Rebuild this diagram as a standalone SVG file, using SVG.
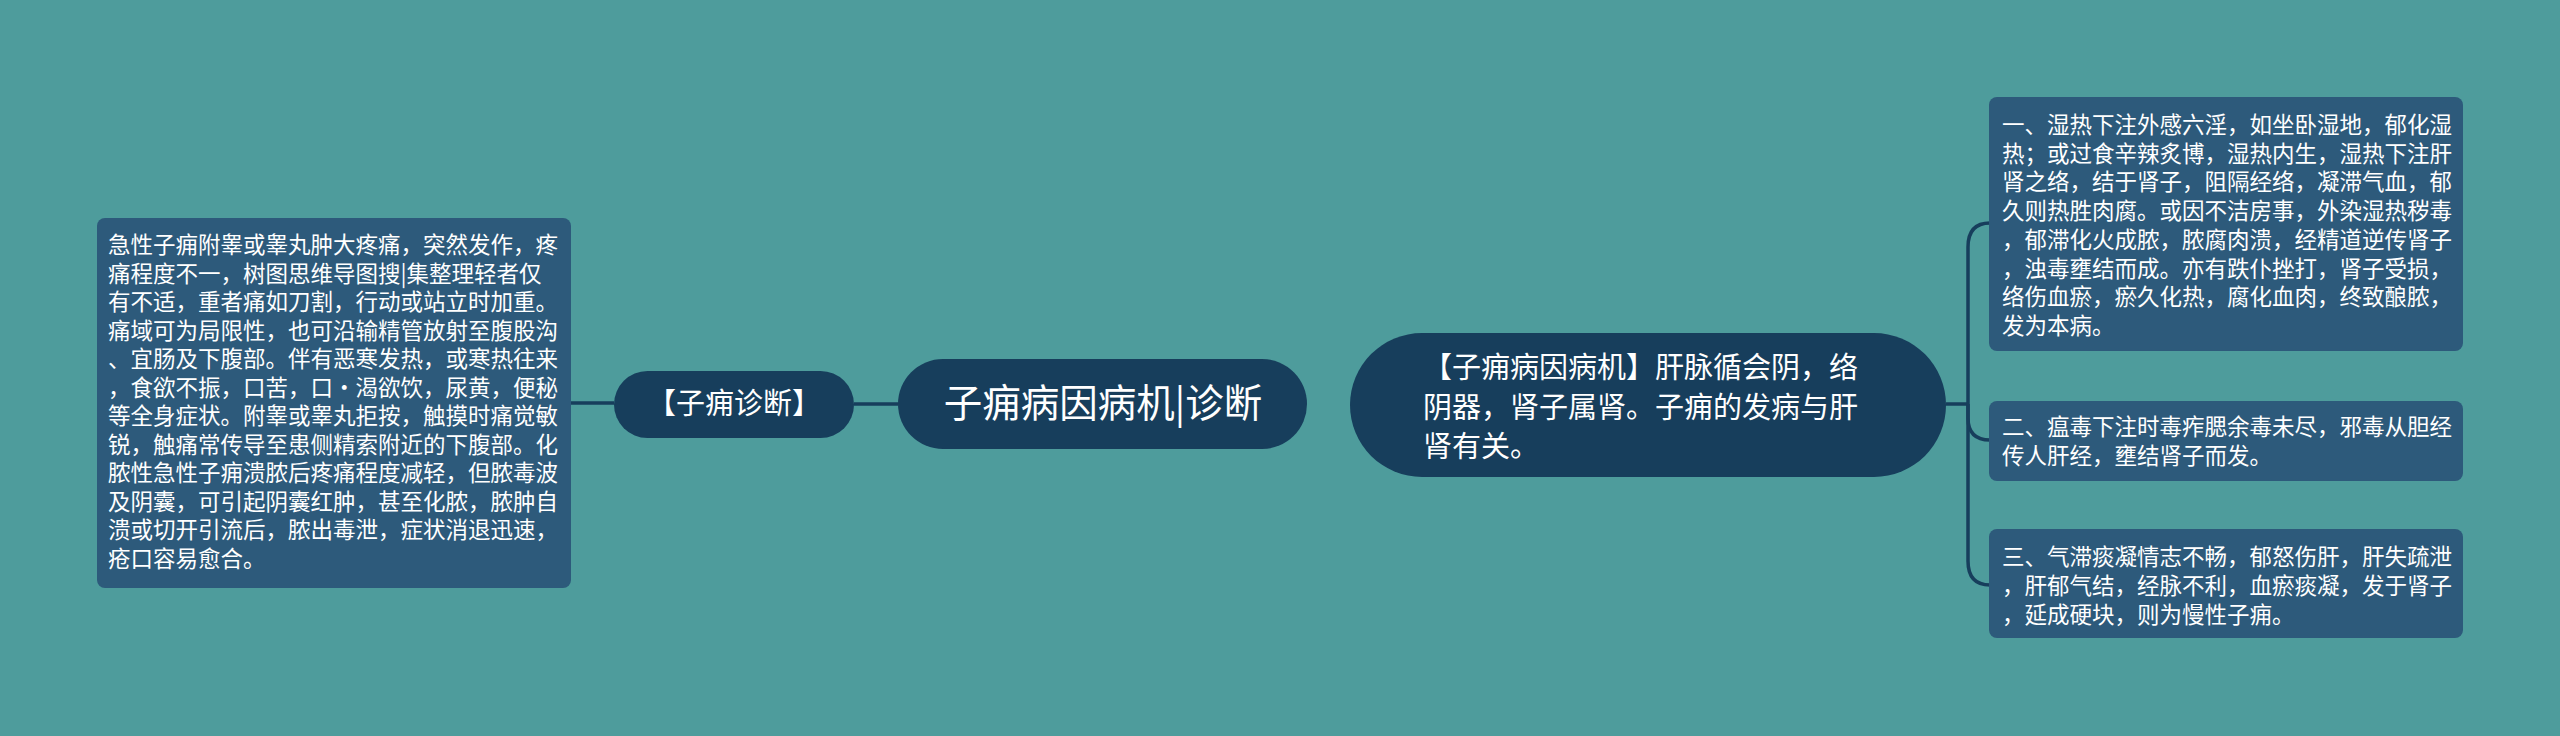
<svg xmlns="http://www.w3.org/2000/svg" width="2560" height="736" viewBox="0 0 2560 736">
<style>
.t{font-family:"Noto Sans CJK SC","Noto Sans",sans-serif;fill:#ffffff}
.leaf{fill:#2d5a7b}
.node{fill:#173e5c}
.s{font-size:22.5px}
.c{fill:none;stroke:#173e5c;stroke-width:3.5}
</style>
<rect width="2560" height="736" fill="#4e9c9c"/>
<g id="connectors">
<path class="c" d="M571 403 H614"/>
<path class="c" d="M854 404 H898"/>
<path class="c" d="M1946 404 H1968"/>
<path class="c" d="M1968 404 V247 Q1968 223 1990 223"/>
<path class="c" d="M1968 404 V418 Q1968 440 1990 440"/>
<path class="c" d="M1968 404 V561 Q1968 585 1990 585"/>
</g>
<g id="node-left-detail">
<rect class="leaf" x="97" y="218" width="474" height="370" rx="8"/>
<text class="t s" x="108" y="253">急性子痈附睾或睾丸肿大疼痛，突然发作，疼</text>
<text class="t s" x="108" y="281.5">痛程度不一，树图思维导图搜|集整理轻者仅</text>
<text class="t s" x="108" y="310">有不适，重者痛如刀割，行动或站立时加重。</text>
<text class="t s" x="108" y="338.5">痛域可为局限性，也可沿输精管放射至腹股沟</text>
<text class="t s" x="108" y="367">、宜肠及下腹部。伴有恶寒发热，或寒热往来</text>
<text class="t s" x="108" y="395.5">，食欲不振，口苦，口·渴欲饮，尿黄，便秘</text>
<text class="t s" x="108" y="424">等全身症状。附睾或睾丸拒按，触摸时痛觉敏</text>
<text class="t s" x="108" y="452.5">锐，触痛常传导至患侧精索附近的下腹部。化</text>
<text class="t s" x="108" y="481">脓性急性子痈溃脓后疼痛程度减轻，但脓毒波</text>
<text class="t s" x="108" y="509.5">及阴囊，可引起阴囊红肿，甚至化脓，脓肿自</text>
<text class="t s" x="108" y="538">溃或切开引流后，脓出毒泄，症状消退迅速，</text>
<text class="t s" x="108" y="566.5">疮口容易愈合。</text>
</g>
<g id="node-diagnosis">
<rect class="node" x="614" y="371" width="240" height="67" rx="33.5"/>
<text class="t" x="734" y="414" font-size="29" text-anchor="middle">【子痈诊断】</text>
</g>
<g id="node-root">
<rect class="node" x="898" y="359" width="409" height="90" rx="45"/>
<text class="t" x="1103" y="417" font-size="38.5" text-anchor="middle">子痈病因病机|诊断</text>
</g>
<g id="node-cause">
<rect class="node" x="1350" y="333" width="596" height="144" rx="72"/>
<text class="t" x="1423" y="378" font-size="29">【子痈病因病机】肝脉循会阴，络</text>
<text class="t" x="1423" y="418" font-size="29">阴器，肾子属肾。子痈的发病与肝</text>
<text class="t" x="1423" y="457" font-size="29">肾有关。</text>
</g>
<g id="node-cause-1">
<rect class="leaf" x="1989" y="97" width="474" height="254" rx="8"/>
<text class="t s" x="2002" y="133">一、湿热下注外感六淫，如坐卧湿地，郁化湿</text>
<text class="t s" x="2002" y="161.7">热；或过食辛辣炙博，湿热内生，湿热下注肝</text>
<text class="t s" x="2002" y="190.4">肾之络，结于肾子，阻隔经络，凝滞气血，郁</text>
<text class="t s" x="2002" y="219.1">久则热胜肉腐。或因不洁房事，外染湿热秽毒</text>
<text class="t s" x="2002" y="247.8">，郁滞化火成脓，脓腐肉溃，经精道逆传肾子</text>
<text class="t s" x="2002" y="276.5">，浊毒壅结而成。亦有跌仆挫打，肾子受损，</text>
<text class="t s" x="2002" y="305.2">络伤血瘀，瘀久化热，腐化血肉，终致酿脓，</text>
<text class="t s" x="2002" y="333.9">发为本病。</text>
</g>
<g id="node-cause-2">
<rect class="leaf" x="1989" y="401" width="474" height="80" rx="8"/>
<text class="t s" x="2002" y="435">二、瘟毒下注时毒痄腮余毒未尽，邪毒从胆经</text>
<text class="t s" x="2002" y="464">传人肝经，壅结肾子而发。</text>
</g>
<g id="node-cause-3">
<rect class="leaf" x="1989" y="529" width="474" height="109" rx="8"/>
<text class="t s" x="2002" y="565">三、气滞痰凝情志不畅，郁怒伤肝，肝失疏泄</text>
<text class="t s" x="2002" y="594">，肝郁气结，经脉不利，血瘀痰凝，发于肾子</text>
<text class="t s" x="2002" y="623">，延成硬块，则为慢性子痈。</text>
</g>
</svg>
